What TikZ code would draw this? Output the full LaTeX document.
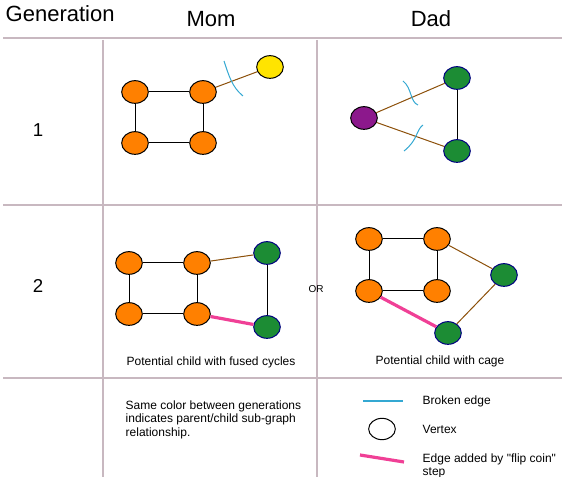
\documentclass[tikz,border=0pt]{standalone}
\usepackage{fontspec}
\setmainfont{Liberation Sans}[Ligatures=TeXOff]
\usetikzlibrary{shapes.geometric}
\definecolor{gridline}{RGB}{200,184,192}
\definecolor{vorange}{RGB}{255,128,0}
\definecolor{vyellow}{RGB}{255,228,0}
\definecolor{vgreen}{RGB}{28,140,52}
\definecolor{vpurple}{RGB}{140,24,140}
\definecolor{vnavy}{RGB}{0,0,128}
\definecolor{jointbrown}{RGB}{140,80,10}
\definecolor{brokenblue}{RGB}{52,168,210}
\definecolor{flippink}{RGB}{240,64,150}
\begin{document}
\begin{tikzpicture}[
    x=0.75pt, y=-0.75pt,
    grid/.style={draw=gridline, line width=0.9pt},
    vertex/.style={ellipse, draw, line width=0.75pt, minimum width=20pt, minimum height=17pt, inner sep=0pt},
    orng/.style={vertex, fill=vorange},
    grn/.style={vertex, fill=vgreen, draw=vnavy},
    edge/.style={draw, line width=0.75pt},
    joint/.style={draw=jointbrown, line width=0.75pt},
    broken/.style={draw=brokenblue, line width=0.75pt},
    flip/.style={draw=flippink, line width=2.4pt},
    head/.style={font=\fontsize{16.5}{18}\selectfont},
    small/.style={font=\fontsize{9}{10.1}\selectfont, align=left}
  ]
  \useasboundingbox (0,0) rectangle (562,477);
  % table
  \draw[grid] (3,38) -- (562,38);
  \draw[grid] (3,205) -- (562,205);
  \draw[grid] (3,378) -- (562,378);
  \draw[grid] (103,40) -- (103,477);
  \draw[grid] (317,40) -- (317,477);
  \node[head, anchor=west] (gen) at (1,14) {Generation};
  \node[head] (mom) at (211,19) {Mom};
  \node[head] (dad) at (431,19) {Dad};
  \node[font=\fontsize{14}{16}\selectfont] (one) at (38,130) {1};
  \node[font=\fontsize{14}{16}\selectfont] (two) at (38,286) {2};

  % mom, generation 1
  \node[orng] (a) at (135,92) {};
  \node[orng] (b) at (203,92) {};
  \node[orng] (c) at (135,143) {};
  \node[orng] (d) at (203,143) {};
  \node[vertex, fill=vyellow] (e) at (270,67) {};
  \draw[edge] (a) -- (b) -- (d) -- (c) -- (a);
  \draw[joint] (b) -- (e);
  \draw[broken] (224,61) .. controls (229,76) and (232,87) .. (243,96);

  % dad, generation 1
  \node[grn] (f) at (457,78) {};
  \node[grn] (g) at (457,151) {};
  \node[vertex, fill=vpurple] (h) at (364,118) {};
  \draw[edge] (f) -- (g);
  \draw[joint] (h) -- (f);
  \draw[joint] (h) -- (g);
  \draw[broken] (403,81) .. controls (412,88) and (410,102) .. (418,105);
  \draw[broken] (423,125) .. controls (416,130) and (418,140) .. (404,151);

  % generation 2, fused cycles
  \node[orng] (i) at (129,263) {};
  \node[orng] (j) at (197,263) {};
  \node[orng] (k) at (129,314) {};
  \node[orng] (l) at (197,314) {};
  \node[grn] (m) at (267,253) {};
  \node[grn] (n) at (267,327) {};
  \draw[edge] (i) -- (j) -- (l) -- (k) -- (i);
  \draw[edge] (m) -- (n);
  \draw[joint] (j) -- (m);
  \draw[flip] (l) -- (n);
  \node[small] (fused) at (211,362) {Potential child with fused cycles};

  \node[font=\fontsize{7.5}{9}\selectfont] (or) at (316,289) {OR};

  % generation 2, cage
  \node[orng] (o) at (369,239) {};
  \node[orng] (p) at (437,239) {};
  \node[orng] (q) at (369,291) {};
  \node[orng] (r) at (437,291) {};
  \node[grn] (s) at (504,275) {};
  \node[grn] (t) at (448,333) {};
  \draw[edge] (o) -- (p) -- (r) -- (q) -- (o);
  \draw[joint] (p) -- (s) -- (t);
  \draw[flip] (q) -- (t);
  \node[small] (cage) at (440,361) {Potential child with cage};

  % legend
  \node[small, anchor=north west] (note) at (121,396)
    {Same color between generations\\indicates parent/child sub-graph\\relationship.};
  \coordinate (bl) at (363,401);
  \coordinate (br) at (403,401);
  \draw[broken, line width=1.3pt] (bl) -- (br);
  \node[small, anchor=west] (brk) at (418,401) {Broken edge};
  \node[vertex, fill=white, minimum width=20pt, minimum height=16pt] (v) at (382,429) {};
  \node[small, anchor=west] (vtx) at (418,429) {Vertex};
  \coordinate (pl) at (360,455);
  \coordinate (pr) at (404,462);
  \draw[flip] (pl) -- (pr);
  \node[small, anchor=north west] (add) at (418,449) {Edge added by "flip coin"\\step};
\end{tikzpicture}
\end{document}
